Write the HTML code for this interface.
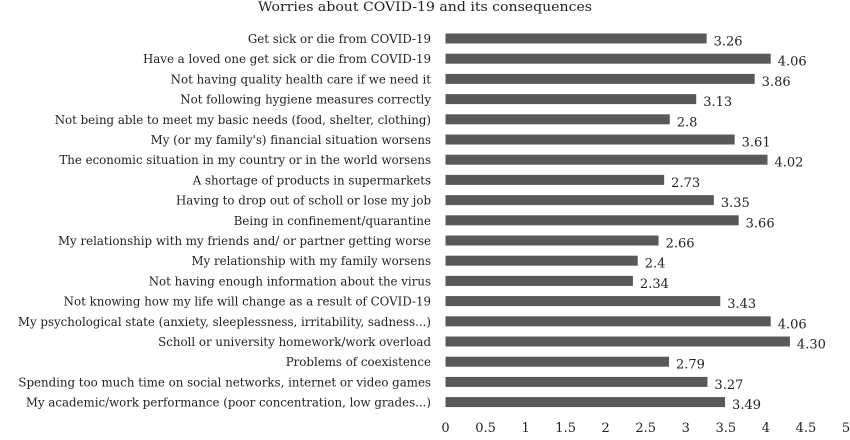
<!DOCTYPE html>
<html><head><meta charset="utf-8"><style>
body{margin:0;background:#fff}
svg text{font-family:"DejaVu Serif","Liberation Serif",serif;fill:#222}
</style></head><body>
<svg width="850" height="435">
<text x="425" y="11" font-size="13" text-anchor="middle" textLength="334" lengthAdjust="spacingAndGlyphs">Worries about COVID-19 and its consequences</text>
<g id="bars"></g>
<g id="ticks"></g>
</svg>
<script>
const categories=["Get sick or die from COVID-19","Have a loved one get sick or die from COVID-19","Not having quality health care if we need it","Not following hygiene measures correctly","Not being able to meet my basic needs (food, shelter, clothing)","My (or my family's) financial situation worsens","The economic situation in my country or in the world worsens","A shortage of products in supermarkets","Having to drop out of scholl or lose my job","Being in confinement/quarantine","My relationship with my friends and/ or partner getting worse","My relationship with my family worsens","Not having enough information about the virus","Not knowing how my life will change as a result of COVID-19","My psychological state (anxiety, sleeplessness, irritability, sadness...)","Scholl or university homework/work overload","Problems of coexistence","Spending too much time on social networks, internet or video games","My academic/work performance (poor concentration, low grades...)"];
const values=[3.26,4.06,3.86,3.13,2.8,3.61,4.02,2.73,3.35,3.66,2.66,2.4,2.34,3.43,4.06,4.30,2.79,3.27,3.49];
const valueLabels=["3.26","4.06","3.86","3.13","2.8","3.61","4.02","2.73","3.35","3.66","2.66","2.4","2.34","3.43","4.06","4.30","2.79","3.27","3.49"];
const tickLabels=["0","0.5","1","1.5","2","2.5","3","3.5","4","4.5","5"];
const tickValues=[0,0.5,1,1.5,2,2.5,3,3.5,4,4.5,5];
const NS="http://www.w3.org/2000/svg";
const x=v=>445.5+v*80.1;
const y=i=>38.5+i*20.2;
const bars=document.getElementById('bars');
function mk(tag,attrs,parent,txt){const e=document.createElementNS(NS,tag);for(const k in attrs)e.setAttribute(k,attrs[k]);if(txt!=null)e.textContent=txt;parent.appendChild(e);return e;}
categories.forEach((c,i)=>{
 const l=mk('text',{x:431,y:y(i)+4.5,'font-size':11.8,'text-anchor':'end'},bars,c);
 
 
 const r=mk('rect',{x:x(0),y:y(i)-5,width:x(values[i])-x(0),height:10,fill:'#595959'},bars);
 
 
 const t=mk('text',{x:x(values[i])+7,y:y(i)+7,'font-size':13},bars,valueLabels[i]);
 
 
});
const tk=document.getElementById('ticks');
tickValues.forEach((v,i)=>{
 const t=mk('text',{x:x(v),y:432,'font-size':13,'text-anchor':'middle'},tk,tickLabels[i]);
 
 
});
</script>
</body></html>
